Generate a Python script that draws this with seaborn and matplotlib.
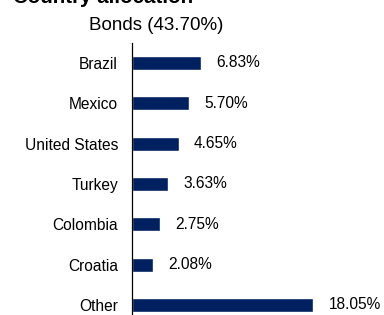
import pandas as pd
import seaborn as sns
import matplotlib.pyplot as plt

# Country allocation of the bond part
countries = ['Brazil', 'Mexico', 'United States', 'Turkey', 'Colombia', 'Croatia', 'Other']
weights = [6.83, 5.70, 4.65, 3.63, 2.75, 2.08, 18.05]
labels = ['6.83%', '5.70%', '4.65%', '3.63%', '2.75%', '2.08%', '18.05%']

df = pd.DataFrame({'Country': countries, 'Weight': weights})

sns.set_style('white')
plt.rcParams['font.family'] = ['Liberation Sans', 'DejaVu Sans']
plt.rcParams['text.color'] = 'black'

fig = plt.figure(figsize=(3.84, 3.15), dpi=100)
ax = fig.add_axes([0.34375, -0.032, 0.654, 0.8964])

sns.barplot(data=df, y='Country', x='Weight', orient='h', color='#002060',
            width=0.345, saturation=1, ax=ax)

for i, lab in enumerate(labels):
    ax.annotate(lab, (weights[i], i), xytext=(11, 0), textcoords='offset points',
                va='center', ha='left', fontsize=11.2, color='black')

ax.set_xlim(0, 25)
ax.set_ylim(6.5, -0.5)
ax.set_xlabel('')
ax.set_ylabel('')
ax.set_xticks([])
ax.tick_params(axis='y', length=0, pad=10, labelsize=11.2, labelcolor='black')
for s in ['top', 'right', 'bottom']:
    ax.spines[s].set_visible(False)
ax.spines['left'].set_color('black')
ax.spines['left'].set_linewidth(0.9)

fig.text(13 / 384, 1 - 3 / 315, 'Country allocation', fontsize=14.8,
         fontweight='bold', va='baseline', ha='left', color='black')
fig.text(89 / 384, 1 - 29.5 / 315, 'Bonds (43.70%)', fontsize=13.5,
         va='baseline', ha='left', color='black')

fig.savefig('out.png', dpi=100)
